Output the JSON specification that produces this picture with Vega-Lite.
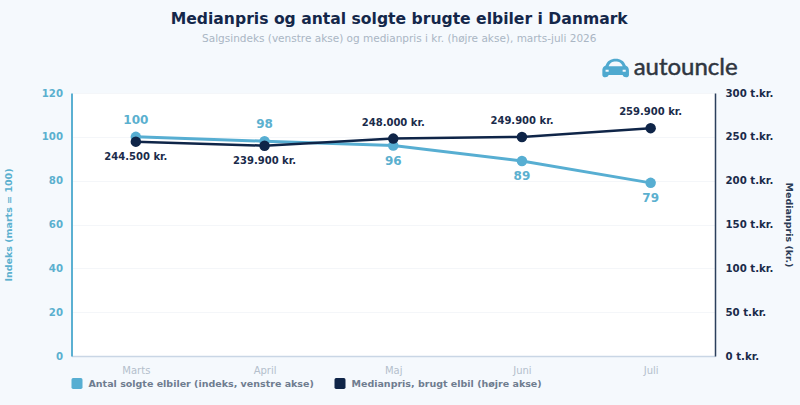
{
  "$schema": "https://vega.github.io/schema/vega-lite/v6.json",
  "width": 643.5,
  "height": 263,
  "autosize": "none",
  "padding": {"left": 71.5, "top": 93, "right": 85, "bottom": 49},
  "background": "#f5f9fd",
  "title": {
    "text": "Medianpris og antal solgte brugte elbiler i Danmark",
    "subtitle": "Salgsindeks (venstre akse) og medianpris i kr. (højre akse), marts-juli 2026",
    "anchor": "middle",
    "dx": 6,
    "offset": 12,
    "font": "DejaVu Sans",
    "fontSize": 15.6,
    "fontWeight": "bold",
    "color": "#14274a",
    "subtitleFont": "DejaVu Sans",
    "subtitleFontSize": 10.5,
    "subtitleColor": "#aab6c4",
    "subtitlePadding": 6
  },
  "datasets": {
    "maaneder": [
      {"month": "Marts", "index": 100, "price": 244500},
      {"month": "April", "index": 98, "price": 239900},
      {"month": "Maj", "index": 96, "price": 248000},
      {"month": "Juni", "index": 89, "price": 249900},
      {"month": "Juli", "index": 79, "price": 259900}
    ],
    "brand": [{"month": "Juli", "name": "autouncle", "index": 131.4}]
  },
  "data": {"name": "maaneder"},
  "config": {
    "font": "DejaVu Sans",
    "view": {"fill": "#ffffff", "stroke": null},
    "locale": {"number": {"decimal": ",", "thousands": ".", "grouping": [3], "currency": ["", " kr."]}}
  },
  "encoding": {
    "x": {
      "field": "month",
      "type": "ordinal",
      "title": null,
      "scale": {"type": "point", "padding": 0.5, "domain": ["Marts", "April", "Maj", "Juni", "Juli"]},
      "axis": {
        "labelAngle": 0,
        "labelFontSize": 10,
        "labelColor": "#b4bfcc",
        "labelPadding": 9,
        "ticks": false,
        "grid": false,
        "domainColor": "#c9d6e5",
        "domainWidth": 1.5
      }
    }
  },
  "layer": [
    {
      "encoding": {
        "y": {
          "field": "index",
          "type": "quantitative",
          "title": "Indeks (marts = 100)",
          "scale": {"domain": [0, 120]},
          "axis": {
            "orient": "left",
            "values": [0, 20, 40, 60, 80, 100, 120],
            "labelFontSize": 10.2,
            "labelFontWeight": "bold",
            "labelColor": "#5bb0cf",
            "labelPadding": 9,
            "ticks": false,
            "domainColor": "#5bb0d2",
            "domainWidth": 2,
            "grid": true,
            "gridColor": "#f4f6f9",
            "titleFontSize": 9.5,
            "titleFontWeight": "bold",
            "titleColor": "#5bb0cf",
            "titleX": -58,
            "titleY": 131.5
          }
        },
        "color": {
          "datum": "Antal solgte elbiler (indeks, venstre akse)",
          "scale": {
            "domain": ["Antal solgte elbiler (indeks, venstre akse)", "Medianpris, brugt elbil (højre akse)"],
            "range": ["#57aed2", "#0f2548"]
          },
          "legend": {
            "orient": "none",
            "legendX": 0,
            "legendY": 285,
            "direction": "horizontal",
            "columns": 2,
            "columnPadding": 20,
            "title": null,
            "symbolType": "M-1 -0.7 Q-1 -1 -0.7 -1 L0.7 -1 Q1 -1 1 -0.7 L1 0.7 Q1 1 0.7 1 L-0.7 1 Q-1 1 -1 0.7 Z",
            "symbolSize": 121,
            "symbolStrokeWidth": 0,
            "labelFontSize": 9.5,
            "labelFontWeight": "bold",
            "labelColor": "#6f7d90",
            "labelLimit": 300,
            "labelOffset": 6
          }
        }
      },
      "layer": [
        {"mark": {"type": "line", "strokeWidth": 3}},
        {"mark": {"type": "point", "filled": true, "opacity": 1, "size": 110}},
        {
          "transform": [{"filter": "datum.index >= 98"}],
          "mark": {"type": "text", "dy": -17, "fontSize": 12, "fontWeight": "bold"},
          "encoding": {"text": {"field": "index", "type": "quantitative"}, "color": {"value": "#5bb0cf"}}
        },
        {
          "transform": [{"filter": "datum.index < 98"}],
          "mark": {"type": "text", "dy": 15, "fontSize": 12, "fontWeight": "bold"},
          "encoding": {"text": {"field": "index", "type": "quantitative"}, "color": {"value": "#5bb0cf"}}
        },
        {
          "data": {"name": "brand"},
          "mark": {
            "type": "point",
            "filled": true,
            "opacity": 1,
            "size": 784,
            "xOffset": -35,
            "shape": "M-0.95 0.2 C-0.95 -0.05 -0.85 -0.1 -0.72 -0.18 C-0.6 -0.5 -0.35 -0.66 0 -0.66 C0.35 -0.66 0.6 -0.5 0.72 -0.18 C0.85 -0.1 0.95 -0.05 0.95 0.2 L0.95 0.5 C0.95 0.62 0.85 0.66 0.75 0.66 C0.6 0.66 0.55 0.6 0.5 0.5 L-0.5 0.5 C-0.55 0.6 -0.6 0.66 -0.75 0.66 C-0.85 0.66 -0.95 0.62 -0.95 0.5 Z M-0.5 -0.12 L0.5 -0.12 C0.4 -0.38 0.25 -0.46 0 -0.46 C-0.25 -0.46 -0.4 -0.38 -0.5 -0.12 Z M-0.72 0.12 L-0.72 0.26 L-0.5 0.26 L-0.5 0.12 Z M0.5 0.12 L0.5 0.26 L0.72 0.26 L0.72 0.12 Z"
          },
          "encoding": {"color": {"value": "#4fa9cf"}}
        },
        {
          "data": {"name": "brand"},
          "mark": {"type": "text", "dx": 35, "font": "Lato", "fontSize": 24, "stroke": "#2f3640", "strokeWidth": 0.5},
          "encoding": {
            "text": {"field": "name"},
            "color": {"value": "#2f3640"}
          }
        }
      ]
    },
    {
      "encoding": {
        "y": {
          "field": "price",
          "type": "quantitative",
          "title": "Medianpris (kr.)",
          "scale": {"domain": [0, 300000]},
          "axis": {
            "orient": "right",
            "values": [0, 50000, 100000, 150000, 200000, 250000, 300000],
            "labelExpr": "datum.value / 1000 + ' t.kr.'",
            "labelFontSize": 10.2,
            "labelFontWeight": "bold",
            "labelColor": "#1a2b4a",
            "labelPadding": 10,
            "ticks": false,
            "domainColor": "#2b3f5c",
            "domainWidth": 1.5,
            "grid": false,
            "titleFontSize": 9.5,
            "titleFontWeight": "bold",
            "titleColor": "#2b3b55",
            "titleAngle": 90,
            "titleX": 68,
            "titleY": 131.5
          }
        },
        "color": {"datum": "Medianpris, brugt elbil (højre akse)"}
      },
      "layer": [
        {"mark": {"type": "line", "strokeWidth": 2.5}},
        {"mark": {"type": "point", "filled": true, "opacity": 1, "size": 110}},
        {
          "transform": [{"filter": "datum.price < 248000"}],
          "mark": {"type": "text", "dy": 15, "fontSize": 10, "fontWeight": "bold"},
          "encoding": {
            "text": {"field": "price", "type": "quantitative", "format": "$,d"},
            "color": {"value": "#1a2b4a"}
          }
        },
        {
          "transform": [{"filter": "datum.price >= 248000"}],
          "mark": {"type": "text", "dy": -16, "fontSize": 10, "fontWeight": "bold"},
          "encoding": {
            "text": {"field": "price", "type": "quantitative", "format": "$,d"},
            "color": {"value": "#1a2b4a"}
          }
        }
      ]
    }
  ],
  "resolve": {"scale": {"y": "independent"}, "axis": {"y": "independent"}}
}
